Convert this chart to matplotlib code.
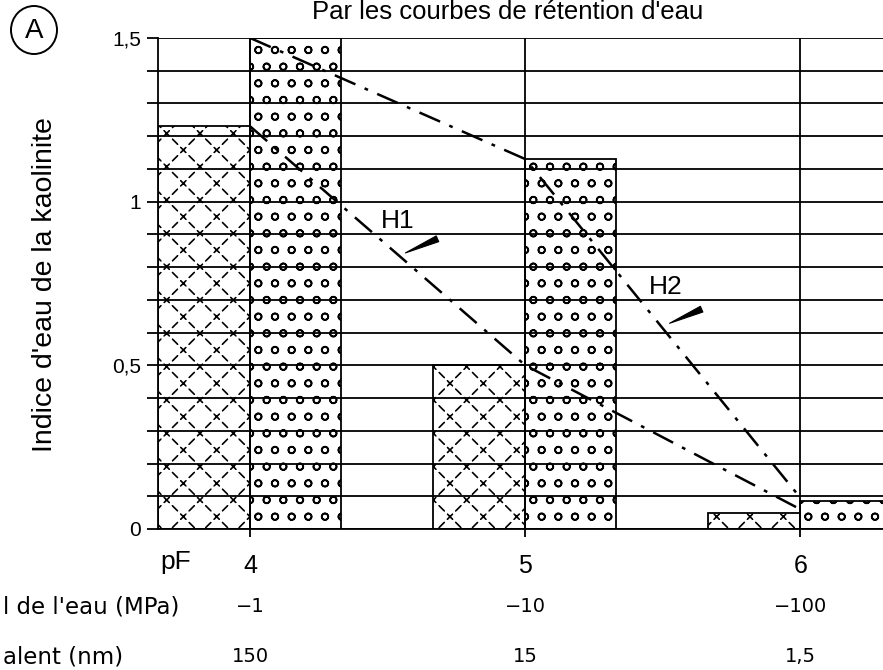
import numpy as np
import matplotlib.pyplot as plt
import matplotlib.transforms as mtransforms
from matplotlib.patches import Ellipse

plt.rcParams['font.family'] = ['Liberation Sans', 'DejaVu Sans']
plt.rcParams['hatch.linewidth'] = 1.2

# pF values and the two kaolinite water indices (two textures of bars)
pf = [4, 5, 6]
indice_fin = [1.23, 0.50, 0.05]      # dashed texture, left of each pF
indice_gros = [1.50, 1.13, 0.086]    # circles texture, right of each pF

# dash-dot lines H1 and H2
h1 = [1.23, 0.50, 0.06]
h2 = [1.50, 1.13, 0.095]

mpa_labels = ['\u22121', '\u221210', '\u2212100']
nm_labels = ['150', '15', '1,5']
ytick_vals = [0, 0.5, 1, 1.5]
ytick_labels = ['0', '0,5', '1', '1,5']

W, H = 883, 670
fig = plt.figure(figsize=(W / 100, H / 100), dpi=100)
ax = fig.add_axes([158 / W, 1 - 529 / H, 1.0 - 158 / W, (529 - 38) / H])

# dashes texture: black crossed hatch broken up by a white hatch
ax.bar(pf, indice_fin, width=-0.335, align='edge', color='white',
       edgecolor='black', hatch='/\\', linewidth=0, zorder=2)
ax.bar(pf, indice_fin, width=-0.335, align='edge', fill=False,
       edgecolor='white', hatch='++', linewidth=0, zorder=2.1)
ax.bar(pf, indice_fin, width=-0.335, align='edge', fill=False,
       edgecolor='black', linewidth=1.3, zorder=2.2)
ax.bar(pf, indice_gros, width=0.33, align='edge', color='white',
       edgecolor='black', hatch='o', linewidth=1.3, zorder=2)

ax.plot(pf, h1, color='black', lw=1.8, dashes=(9, 4, 1.5, 4), zorder=4)
ax.plot(pf, h2, color='black', lw=1.8, dashes=(9, 4, 1.5, 4), zorder=4)

ax.set_xlim(3.665, 6.30)
ax.set_ylim(0, 1.5)

# grid: every 0.1 horizontally, at each pF vertically
ax.set_yticks(ytick_vals)
ax.set_yticklabels(ytick_labels, fontsize=15)
ax.set_yticks(np.arange(0, 1.51, 0.1), minor=True)
ax.tick_params(axis='y', which='both', length=8, width=1.3, pad=4)
ax.grid(True, which='both', axis='y', color='black', lw=1.3)
ax.set_xticks(pf)
ax.set_xticklabels([str(p) for p in pf], fontsize=18)
ax.tick_params(axis='x', length=6, width=1.3, pad=12)
ax.grid(True, which='major', axis='x', color='black', lw=1.3)
ax.set_axisbelow(False)
for s in ['top', 'right']:
    ax.spines[s].set_visible(False)
ax.spines['left'].set_linewidth(1.3)
ax.spines['bottom'].set_linewidth(1.3)

fig.text(45 / W, 1 - 285 / H, "Indice d'eau de la kaolinite", rotation=90,
         ha='center', va='center', fontsize=20.5)

fig.text(508 / W, 1 - 12 / H, "Par les courbes de rétention d'eau", ha='center',
         va='center', fontsize=18.5)

# circled A
fig.add_artist(Ellipse((34 / W, 1 - 30 / H), 46 / W, 48 / H,
                       transform=fig.transFigure, fill=False, lw=1.4, ec='black'))
fig.text(34 / W, 1 - 31 / H, 'A', ha='center', va='center', fontsize=20)

# rows of equivalent values under the axis
trans = mtransforms.blended_transform_factory(ax.transData, fig.transFigure)
ax.text(3.73, 1 - 562 / H, 'pF', transform=trans, ha='center', va='center',
        fontsize=19)
for p, m, n in zip(pf, mpa_labels, nm_labels):
    ax.text(p, 1 - 607 / H, m, transform=trans, ha='center', va='center',
            fontsize=14, family='DejaVu Sans')
    ax.text(p, 1 - 657 / H, n, transform=trans, ha='center', va='center',
            fontsize=14, family='DejaVu Sans')
fig.text(3 / W, 1 - 607 / H, "l de l'eau (MPa)", ha='left', va='center',
         fontsize=16.5, family='DejaVu Sans')
fig.text(3 / W, 1 - 657 / H, "alent (nm)", ha='left', va='center',
         fontsize=16.5, family='DejaVu Sans')

# H1 / H2 labels with arrows pointing at the lines
ax.text(4.535, 0.94, 'H1', fontsize=19, ha='center', va='center', zorder=5)
ax.annotate('', xy=(4.555, 0.84), xytext=(4.69, 0.89),
            arrowprops=dict(arrowstyle='wedge,tail_width=0.45', fc='black',
                            ec='black', lw=0.8), zorder=5)
ax.text(5.51, 0.74, 'H2', fontsize=19, ha='center', va='center', zorder=5)
ax.annotate('', xy=(5.515, 0.625), xytext=(5.65, 0.675),
            arrowprops=dict(arrowstyle='wedge,tail_width=0.45', fc='black',
                            ec='black', lw=0.8), zorder=5)

fig.savefig('out.png', dpi=100)
